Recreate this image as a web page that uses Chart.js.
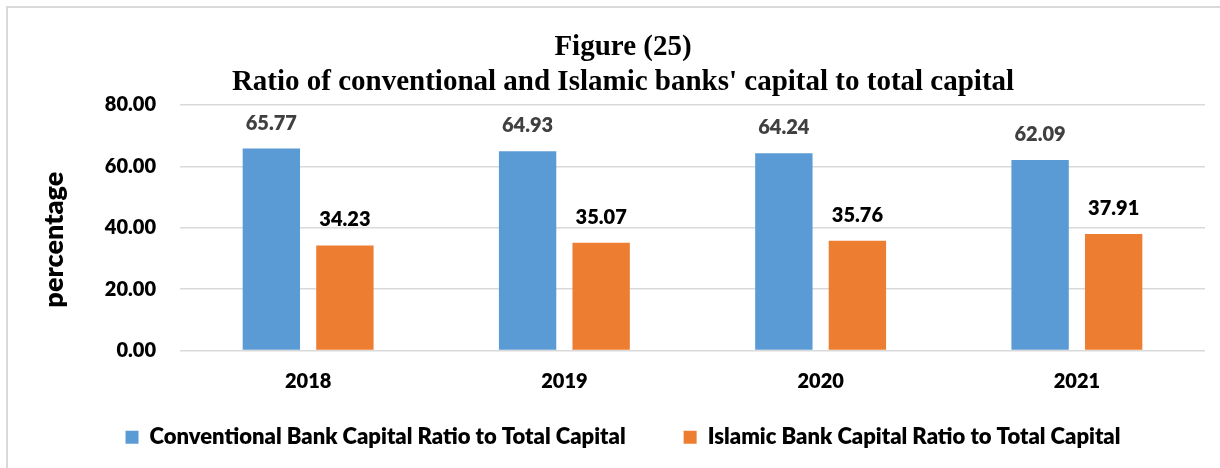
<!DOCTYPE html>
<html>
<head>
<meta charset="utf-8">
<script src="https://cdn.jsdelivr.net/npm/chart.js@4.4.1/dist/chart.umd.min.js"></script>
<style>
  html, body { margin: 0; padding: 0; background: #ffffff; }
  #wrap { position: relative; width: 1220px; height: 468px; overflow: hidden; }
  #frame {
    position: absolute; left: 6px; top: 6px; width: 1240px; height: 480px;
    border-top: 2px solid #d9d9d9; border-left: 2px solid #d9d9d9;
  }
  #c { position: absolute; left: 0; top: 0; }
</style>
</head>
<body>
<div id="wrap">
  <div id="frame"></div>
  <canvas id="c" width="1220" height="468"></canvas>
</div>
<script>
// Years on the category axis
const years = ['2018', '2019', '2020', '2021'];
// Share of total capital (%)
const conventionalShare = [65.77, 64.93, 64.24, 62.09];
const islamicShare = [34.23, 35.07, 35.76, 37.91];
// Value axis ticks
const yTicks = [0, 20, 40, 60, 80];

const titleLines = ['Figure (25)', "Ratio of conventional and Islamic banks' capital to total capital"];
const yAxisTitle = 'percentage';

const sansFamily = 'Lato, "Open Sans", "DejaVu Sans", sans-serif';
const heavy = 800;

// Writes each bar's value above it
const valueLabels = {
  id: 'valueLabels',
  afterDatasetsDraw(chart) {
    const ctx = chart.ctx;
    ctx.save();
    ctx.font = heavy + ' 20px ' + sansFamily;
    ctx.textAlign = 'center';
    ctx.textBaseline = 'middle';
    chart.data.datasets.forEach((ds, i) => {
      const meta = chart.getDatasetMeta(i);
      ctx.fillStyle = ds.labelColor;
      meta.data.forEach((bar, j) => {
        ctx.fillText(ds.data[j].toFixed(2), bar.x, bar.y - 25.5);
      });
    });
    ctx.restore();
  }
};

// Vertical caption beside the value axis
const sideCaption = {
  id: 'sideCaption',
  afterDraw(chart) {
    const ctx = chart.ctx;
    const area = chart.chartArea;
    ctx.save();
    ctx.font = heavy + ' 27px ' + sansFamily;
    ctx.fillStyle = '#000000';
    ctx.textAlign = 'center';
    ctx.textBaseline = 'middle';
    ctx.translate(54, (area.top + area.bottom) / 2 + 12);
    ctx.rotate(-Math.PI / 2);
    ctx.fillText(yAxisTitle, 0, 0);
    ctx.restore();
  }
};

new Chart(document.getElementById('c'), {
  type: 'bar',
  data: {
    labels: years,
    datasets: [
      {
        label: 'Conventional Bank Capital Ratio to Total Capital',
        data: conventionalShare,
        backgroundColor: '#5b9bd5',
        labelColor: '#404040'
      },
      {
        label: 'Islamic Bank Capital Ratio to Total Capital',
        data: islamicShare,
        backgroundColor: '#ed7d31',
        labelColor: '#000000'
      }
    ]
  },
  options: {
    responsive: false,
    animation: false,
    devicePixelRatio: 1,
    categoryPercentage: 0.574,
    barPercentage: 0.78,
    layout: { padding: { left: 41, right: 15, top: 0, bottom: 9.75 } },
    plugins: {
      title: {
        display: true,
        text: titleLines,
        color: '#000000',
        font: { family: '"Liberation Serif", "Times New Roman", serif', size: 29, weight: 'bold', lineHeight: 1.2 },
        padding: { top: 30.3, bottom: 5 }
      },
      legend: {
        position: 'bottom',
        labels: {
          color: '#000000',
          boxWidth: 13,
          boxHeight: 13,
          padding: 58,
          font: { family: sansFamily, size: 22, weight: heavy }
        }
      },
      tooltip: { enabled: false }
    },
    scales: {
      x: {
        grid: { display: false },
        border: { display: false },
        ticks: {
          color: '#000000',
          // mirrored ticks are not clipped to the (narrow) axis box
          mirror: true,
          padding: -43,
          font: { family: sansFamily, size: 20, weight: heavy }
        },
        afterFit(scale) { scale.height = 17.75; }
      },
      y: {
        min: yTicks[0],
        max: yTicks[yTicks.length - 1],
        afterBuildTicks(scale) { scale.ticks = yTicks.map(v => ({ value: v })); },
        grid: { color: '#d9d9d9', lineWidth: 1.5, drawTicks: false },
        border: { display: false },
        ticks: {
          color: '#000000',
          padding: 24,
          font: { family: sansFamily, size: 20, weight: heavy },
          callback: v => Number(v).toFixed(2)
        },
        afterFit(scale) { scale.width = 139; }
      }
    }
  },
  plugins: [valueLabels, sideCaption]
});
</script>
</body>
</html>
